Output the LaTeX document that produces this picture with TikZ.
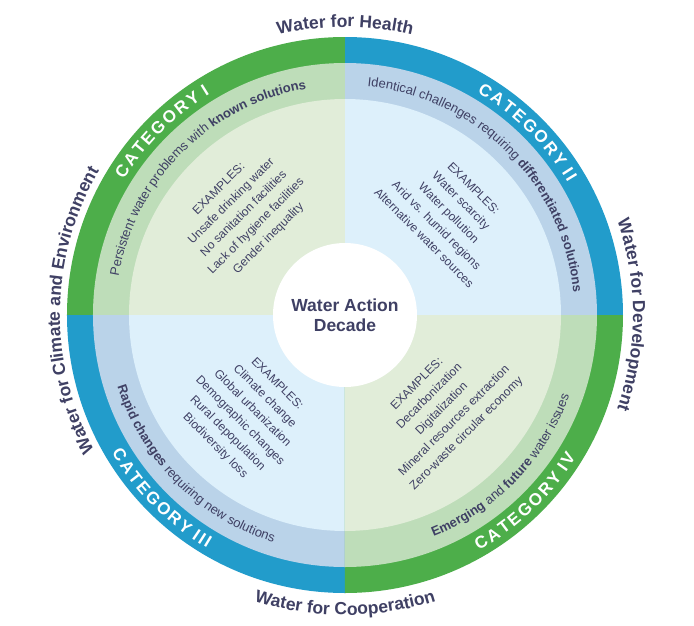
\documentclass[tikz,border=0pt]{standalone}
\usepackage{fontspec}
\setmainfont{Liberation Sans}
\usetikzlibrary{decorations.text}
\definecolor{ringG}{RGB}{77,174,74}
\definecolor{ringB}{RGB}{34,156,203}
\definecolor{bandG}{RGB}{190,221,185}
\definecolor{bandB}{RGB}{186,211,233}
\definecolor{inG}{RGB}{225,237,217}
\definecolor{inB}{RGB}{221,240,251}
\definecolor{ink}{RGB}{63,64,100}
\newcommand\ArcLabel[5]{%
  \path[decorate,decoration={text along path,text align=center,text color=#4,text={#5}}]
    (#2:#1) arc (#2:#3:#1);}
\newcommand\bandR{\fontsize{13}{15}\selectfont\mdseries}
\newcommand\bandB{\fontsize{13}{15}\selectfont\bfseries}
\newcommand\catF{\fontsize{17}{20}\selectfont\bfseries}
\newcommand\outF{\fontsize{17.5}{20}\selectfont\bfseries}
\tikzset{
  exlist/.style={text=ink, align=center, inner sep=0pt, font=\fontsize{12}{17.5}\selectfont},
  hubtext/.style={text=ink, align=center, font=\fontsize{17.5}{20}\selectfont\bfseries},
}
\begin{document}
\begin{tikzpicture}[x=1pt,y=1pt]
\useasboundingbox (-345,-310) rectangle (349,315);
\fill[white] (-345,-310) rectangle (349,315);
% quadrant sectors
\foreach \a/\c in {0/B,90/G,180/B,270/G}{
  \fill[ring\c] (0,0) -- (\a:278) arc (\a:\a+90:278) -- cycle;
  \fill[band\c] (0,0) -- (\a:252) arc (\a:\a+90:252) -- cycle;
  \fill[in\c]   (0,0) -- (\a:216) arc (\a:\a+90:216) -- cycle;
}
\node[circle, fill=white, minimum size=144pt, inner sep=0pt] (hub) at (0,0) {};
\node[hubtext] (title) at (0,0) {Water Action\\Decade};
% examples
\node[exlist, rotate=45] (ex1) at (-101,101) {EXAMPLES:\\Unsafe drinking water\\No sanitation facilities\\Lack of hygiene facilities\\Gender inequality};
\node[exlist, rotate=-45] (ex2) at (104,102) {EXAMPLES:\\Water scarcity\\Water pollution\\Arid vs. humid regions\\Alternative water sources};
\node[exlist, rotate=-45] (ex3) at (-99,-100) {EXAMPLES:\\Climate change\\Global urbanization\\Demographic changes\\Rural depopulation\\Biodiversity loss};
\node[exlist, rotate=45] (ex4) at (97,-94) {EXAMPLES:\\Decarbonization\\Digitalization\\Mineral resources extraction\\Zero-waste circular economy};
% category labels
\ArcLabel{259}{195}{75}{white}{|\catF|C{\kern2.2pt}A{\kern2.2pt}T{\kern2.2pt}E{\kern2.2pt}G{\kern2.2pt}O{\kern2.2pt}R{\kern2.2pt}Y{\kern6pt}I}
\ArcLabel{259}{105}{-15}{white}{|\catF|C{\kern2.2pt}A{\kern2.2pt}T{\kern2.2pt}E{\kern2.2pt}G{\kern2.2pt}O{\kern2.2pt}R{\kern2.2pt}Y{\kern6pt}I{\kern2.2pt}I}
\ArcLabel{271}{165}{285}{white}{|\catF|C{\kern2.2pt}A{\kern2.2pt}T{\kern2.2pt}E{\kern2.2pt}G{\kern2.2pt}O{\kern2.2pt}R{\kern2.2pt}Y{\kern6pt}I{\kern2.2pt}I{\kern2.2pt}I}
\ArcLabel{271}{254}{374}{white}{|\catF|C{\kern2.2pt}A{\kern2.2pt}T{\kern2.2pt}E{\kern2.2pt}G{\kern2.2pt}O{\kern2.2pt}R{\kern2.2pt}Y{\kern6pt}I{\kern2.2pt}V}
% band texts
\ArcLabel{229.5}{200}{70}{ink}{|\bandR|Persistent water problems with |\bandB|known solutions}
\ArcLabel{229.5}{110}{-20}{ink}{|\bandR|Identical challenges requiring |\bandB|differentiated solutions}
\ArcLabel{238.5}{160}{290}{ink}{|\bandB|Rapid changes|\bandR| requiring new solutions}
\ArcLabel{238.5}{251}{381}{ink}{|\bandB|Emerging|\bandR| and |\bandB|future|\bandR| water issues}
% outer labels
\ArcLabel{288}{150}{30}{ink}{|\outF|Water for Health}
\ArcLabel{288}{60}{-60}{ink}{|\outF|Water for Development}
\ArcLabel{285}{263}{95}{ink}{|\outF|Water for Climate and Environment}
\ArcLabel{300}{210}{330}{ink}{|\outF|Water for Cooperation}
\end{tikzpicture}
\end{document}
